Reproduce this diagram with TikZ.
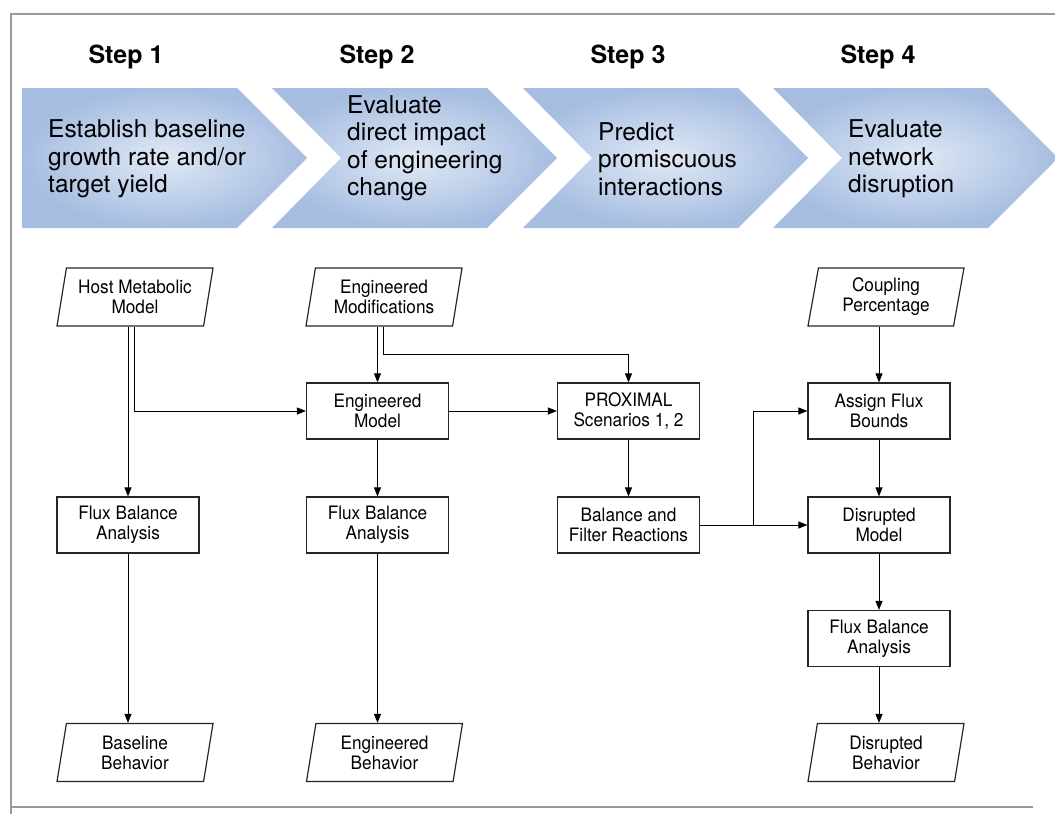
\documentclass[tikz,border=0pt]{standalone}
\usepackage{fontspec}
\setmainfont{TeX Gyre Heros}
\newfontfamily\boxfont[FakeStretch=0.93]{TeX Gyre Heros}
\usetikzlibrary{shapes.geometric, arrows.meta, calc}

\begin{document}
\begin{tikzpicture}
		[x=1pt,y=-1pt,line join=miter,
		%Styles
		frame line/.style={black!40, line width=1.2pt},
		chevron/.style={inner color=chevlight, outer color=chevdark},
		step label/.style={font=\fontsize{25}{28}\selectfont\bfseries, anchor=base},
		chevron text/.style={font=\fontsize{24.5}{27.5}\selectfont, align=left, anchor=west, inner sep=0pt},
		process/.style={rectangle, draw=black!85, line width=1.2pt, minimum width=142pt, minimum height=56pt, align=center, font=\boxfont\fontsize{18.5}{20}\selectfont, inner sep=2pt},
		data/.style={process, trapezium, trapezium left angle=76, trapezium right angle=104, trapezium stretches body, minimum width=156pt, minimum height=58pt},
		flow/.style={-{Triangle[length=9pt,width=7pt]}, line width=1pt}
		]
		
		%Colors
		\definecolor{chevlight}{RGB}{224,233,245}
		\definecolor{chevdark}{RGB}{166,189,225}
		
		\useasboundingbox (0,0) rectangle (1055,814);
		
		%Frame
		\draw[frame line] (1055,14) -- (11,14) -- (11,814);
		\draw[frame line] (11,807) -- (1033,807);
		
		%Steps
		\shade[chevron] (22,88) -- (237,88) -- (307,158) -- (237,228) -- (22,228) -- cycle;
		\foreach \x in {272,523,773}
			\shade[chevron] (\x,88) -- ++(215,0) -- ++(70,70) -- ++(-70,70) -- ++(-215,0) -- ++(69,-70) -- cycle;
		
		\node[step label] (step1) at (126,63) {Step 1};
		\node[step label] (step2) at (377,63) {Step 2};
		\node[step label] (step3) at (628,63) {Step 3};
		\node[step label] (step4) at (878,63) {Step 4};
		
		\node[chevron text] (aim1) at (48,159) {Establish baseline\\growth rate and/or\\target yield};
		\node[chevron text] (aim2) at (347,148) {Evaluate\\direct impact\\of engineering\\change};
		\node[chevron text] (aim3) at (598,159) {Predict\\promiscuous\\interactions};
		\node[chevron text] (aim4) at (848,159) {Evaluate\\network\\disruption};
		
		%The graphic
		\node[data] (host) at (135,297) {Host Metabolic\\Model};
		\node[data] (engmod) at (384,297) {Engineered\\Modifications};
		\node[data] (coupling) at (886,297) {Coupling\\Percentage};
		
		\node[process] (engmodel) at (377.5,411) {Engineered\\Model};
		\node[process] (proximal) at (628.5,411) {PROXIMAL\\Scenarios 1, 2};
		\node[process] (assign) at (879,411) {Assign Flux\\Bounds};
		
		\node[process] (fba1) at (128,525) {Flux Balance\\Analysis};
		\node[process] (fba2) at (377.5,525) {Flux Balance\\Analysis};
		\node[process] (balance) at (628.5,525) {Balance and\\Filter Reactions};
		\node[process] (disrupted) at (879,525) {Disrupted\\Model};
		
		\node[process] (fba3) at (879,638.5) {Flux Balance\\Analysis};
		
		\node[data] (basebeh) at (135,752.5) {Baseline\\Behavior};
		\node[data] (engbeh) at (384.5,752.5) {Engineered\\Behavior};
		\node[data] (disbeh) at (886,752.5) {Disrupted\\Behavior};
		
		\coordinate (jog) at ($(engmod.south)!0.5!(engmodel.north)$);
		\coordinate (split) at ($(balance.east)!0.5!(disrupted.west)$);
		
		\draw[flow] (fba1.north |- host.south) -- (fba1.north);
		\draw[flow] ($(fba1.north |- host.south)+(6,0)$) |- (engmodel.west);
		\draw[flow] (engmodel.north |- engmod.south) -- (engmodel.north);
		\draw[flow] ($(engmodel.north |- engmod.south)+(6,0)$) |- (jog -| proximal.north) -- (proximal.north);
		\draw[flow] (engmodel) -- (proximal);
		\draw[flow] (engmodel) -- (fba2);
		\draw[flow] (proximal) -- (balance);
		\draw[flow] (balance) -- (disrupted);
		\draw[flow] (split) |- (assign.west);
		\draw[flow] (assign.north |- coupling.south) -- (assign);
		\draw[flow] (assign) -- (disrupted);
		\draw[flow] (disrupted) -- (fba3);
		\draw[flow] (fba1.south) -- (fba1.south |- basebeh.north);
		\draw[flow] (fba2.south) -- (fba2.south |- engbeh.north);
		\draw[flow] (fba3.south) -- (fba3.south |- disbeh.north);
		
	\end{tikzpicture}
\end{document}
